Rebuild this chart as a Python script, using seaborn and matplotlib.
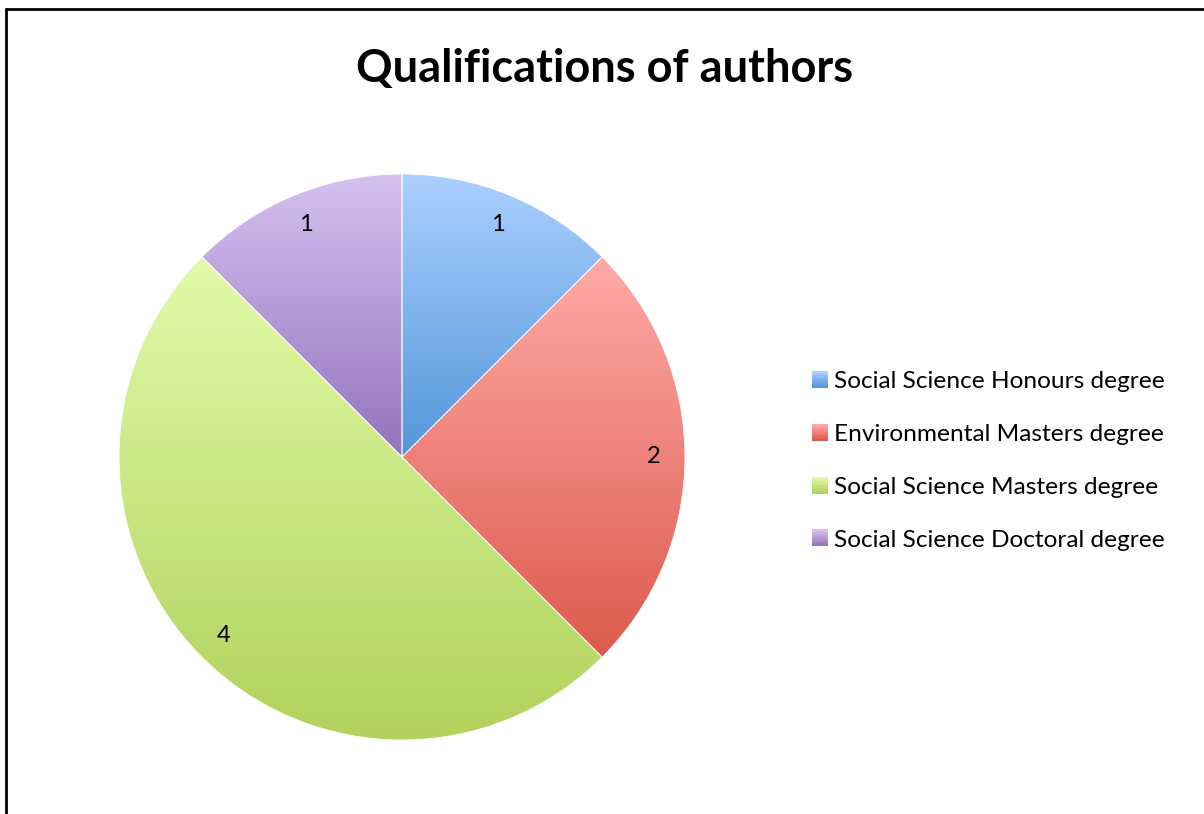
import numpy as np
import matplotlib
matplotlib.use("Agg")
import matplotlib.pyplot as plt
import seaborn as sns
from matplotlib.patches import Rectangle
from matplotlib.legend_handler import HandlerPatch
from matplotlib.colors import ListedColormap
from matplotlib.lines import Line2D

categories = ["Social Science Honours degree", "Environmental Masters degree",
              "Social Science Masters degree", "Social Science Doctoral degree"]
counts = [1, 2, 4, 1]
light_colors = ["#abd0ff", "#ffaaa8", "#e1fbaa", "#d6c1f1"]
dark_colors = ["#5396da", "#dd5a4d", "#b1d25c", "#9373bb"]

sns.set_style("white")
plt.rcParams["font.family"] = ["Lato", "DejaVu Sans"]
plt.rcParams["text.color"] = "black"

W, H = 1204, 814
fig = plt.figure(figsize=(W / 100, H / 100), dpi=100)

cx, cy, r = 402, 457, 283
ax = fig.add_axes([(cx - r) / W, (H - cy - r) / H, 2 * r / W, 2 * r / H])

wedges, texts, autotexts = ax.pie(
    counts, startangle=90, counterclock=False, radius=1,
    autopct=lambda p: "%d" % round(p * sum(counts) / 100),
    pctdistance=0.89, textprops={"fontsize": 17, "color": "black"},
    wedgeprops={"edgecolor": "white", "linewidth": 0.6})

for w, lc, dc in zip(wedges, light_colors, dark_colors):
    t = np.radians(np.linspace(w.theta1, w.theta2, 200))
    ys = np.concatenate([[0], np.sin(t)])
    ymin, ymax = ys.min(), ys.max()
    cmap = ListedColormap(sns.blend_palette([lc, dc], 256))
    grad = np.linspace(0, 1, 256).reshape(-1, 1)
    # row 0 (light) at the top of each slice
    im = ax.imshow(grad, cmap=cmap, extent=[-1, 1, ymin, ymax], origin="upper",
                   aspect="auto", zorder=0.5, interpolation="bilinear")
    im.set_clip_path(w)
    w.set_facecolor("none")
    w.set_zorder(1)

for tx in autotexts:
    tx.set_zorder(3)

ax.set_xlim(-1, 1)
ax.set_ylim(-1, 1)
ax.set_aspect("equal")
ax.axis("off")


class GradientHandler(HandlerPatch):
    def __init__(self, lc, dc):
        super().__init__()
        self.lc, self.dc = lc, dc

    def create_artists(self, legend, orig_handle, xdescent, ydescent,
                       width, height, fontsize, trans):
        n = 12
        cols = sns.blend_palette([self.lc, self.dc], n)
        arts = []
        for i, c in enumerate(cols):
            rect = Rectangle((-xdescent, -ydescent + height * (n - 1 - i) / n),
                             width, height / n + 0.2, facecolor=c, edgecolor="none",
                             transform=trans)
            arts.append(rect)
        return arts


handles = [Rectangle((0, 0), 1, 1) for _ in categories]
hmap = {h: GradientHandler(lc, dc) for h, lc, dc in zip(handles, light_colors, dark_colors)}
fig.legend(handles, categories, handler_map=hmap, loc="center left",
           bbox_to_anchor=(790 / W, 1 - 461 / H), frameon=False,
           fontsize=17.6, handlelength=0.67, handleheight=0.67,
           handletextpad=0.24, labelspacing=1.3)

fig.text(605 / W, 1 - 69 / H, "Qualifications of authors", ha="center",
         va="center", fontsize=32.5, fontweight="bold", color="black")

fig.add_artist(Line2D([5.5 / W, 5.5 / W], [0, 1 - 8.5 / H], color="black",
                      linewidth=2, transform=fig.transFigure))
fig.add_artist(Line2D([5.5 / W, 1], [1 - 8.5 / H, 1 - 8.5 / H], color="black",
                      linewidth=2, transform=fig.transFigure))

fig.savefig("out.png", dpi=100)
